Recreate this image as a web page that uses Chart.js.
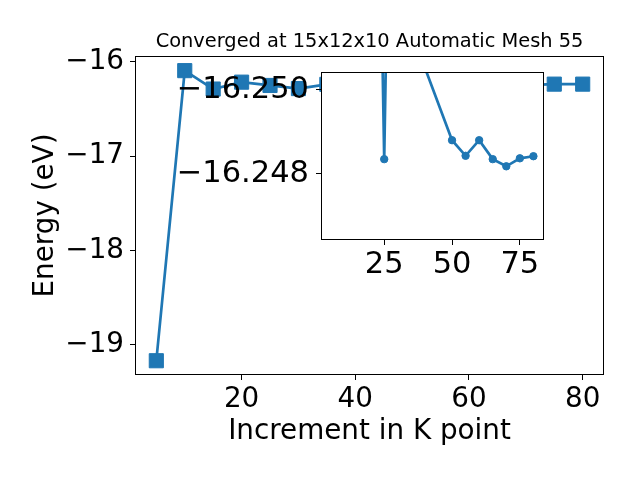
<!DOCTYPE html>
<html>
<head>
<meta charset="utf-8">
<script src="https://cdn.jsdelivr.net/npm/chart.js@4/dist/chart.umd.min.js"></script>
<style>
html,body{margin:0;padding:0;background:#fff;}
#wrap{position:relative;width:640px;height:480px;}
canvas{position:absolute;left:0;top:0;}
</style>
</head>
<body>
<div id="wrap">
<canvas id="main" width="640" height="480"></canvas>
<canvas id="inset" width="640" height="480"></canvas>
</div>
<script>
// ---- data ----
const kPoints = [5, 10, 15, 20, 25, 30, 35, 40, 45, 50, 55, 60, 65, 70, 75, 80];
const energy = [-19.167, -16.095, -16.29, -16.217, -16.252, -16.285, -16.24, -16.25, -16.25, -16.249, -16.248, -16.249, -16.248, -16.248, -16.238, -16.238];

const insetK = [20, 25, 30, 40, 50, 55, 60, 65, 70, 75, 80];
const insetEnergy = [-16.267, -16.24835, -16.267, -16.25052, -16.2488, -16.24843, -16.2488, -16.24835, -16.24818, -16.24837, -16.24842];

const mainXTicks = [20, 40, 60, 80];
const mainYTicks = [-19, -18, -17, -16];
const insetXTicks = [25, 50, 75];
const insetYTicks = [-16.250, -16.248];

const titleText = 'Converged at 15x12x10 Automatic Mesh 55';
const xTitle = 'Increment in K point';
const yTitle = 'Energy (eV)';

// ---- styling ----
const BLUE = '#1f77b4';
const FONT = "'DejaVu Sans', sans-serif";
Chart.defaults.color = '#000';
Chart.defaults.font.family = FONT;

const fmt = (v, d) => Number(v).toFixed(d).replace('-', '\u2212');

const framePlugin = {
  id: 'frame',
  beforeDraw(chart, args, opts) {
    if (!opts.fill) return;
    const a = chart.chartArea, ctx = chart.ctx;
    ctx.save();
    ctx.fillStyle = '#fff';
    ctx.fillRect(a.left, a.top, a.right - a.left, a.bottom - a.top);
    ctx.restore();
  },
  afterDraw(chart, args, opts) {
    const a = chart.chartArea, ctx = chart.ctx;
    ctx.save();
    ctx.strokeStyle = '#000';
    ctx.lineWidth = 1;
    ctx.strokeRect(Math.round(a.left) + 0.5, Math.round(a.top) + 0.5,
                   Math.round(a.right - a.left) - 1, Math.round(a.bottom - a.top) - 1);
    if (opts.title) {
      ctx.fillStyle = '#000';
      ctx.font = '19.4px ' + FONT;
      ctx.textAlign = 'center';
      ctx.textBaseline = 'alphabetic';
      ctx.fillText(opts.title, (a.left + a.right) / 2, a.top - 8.7);
    }
    ctx.restore();
  }
};

function axis(o) {
  return {
    type: 'linear',
    min: o.min, max: o.max, reverse: !!o.reverse,
    afterBuildTicks: s => { s.ticks = o.ticks.map(v => ({ value: v })); },
    afterFit: s => { if (o.width !== undefined) s.width = o.width; if (o.height !== undefined) s.height = o.height; },
    ticks: {
      autoSkip: false, maxRotation: 0, minRotation: 0,
      padding: o.pad, color: '#000',
      font: { size: o.fontSize, family: FONT },
      callback: v => fmt(v, o.decimals)
    },
    grid: { display: true, drawOnChartArea: false, drawTicks: true, tickLength: 5, tickColor: '#000', tickWidth: 1 },
    border: { display: false },
    title: o.title ? { display: true, text: o.title, color: '#000', font: { size: 27.8, family: FONT }, padding: o.titlePad } : { display: false }
  };
}

new Chart(document.getElementById('main'), {
  type: 'line',
  data: {
    datasets: [{
      data: kPoints.map((k, i) => ({ x: k, y: energy[i] })),
      borderColor: BLUE, borderWidth: 2.7, fill: false, tension: 0,
      pointStyle: 'rect', pointRadius: 10, pointBackgroundColor: BLUE,
      pointBorderColor: BLUE, pointBorderWidth: 1, clip: 0
    }]
  },
  options: {
    responsive: false, animation: false, devicePixelRatio: 1,
    layout: { autoPadding: false, padding: { left: 0, right: 36, top: 56, bottom: 0 } },
    plugins: {
      legend: { display: false }, tooltip: { enabled: false }, title: { display: false },
      frame: { fill: false, title: titleText }
    },
    scales: {
      x: axis({ min: 1.25, max: 83.75, ticks: mainXTicks, decimals: 0, fontSize: 27.8, pad: 3, height: 105, title: xTitle, titlePad: { top: 0, bottom: 32 } }),
      y: axis({ min: -19.318, max: -15.940, ticks: mainYTicks, decimals: 0, fontSize: 27.8, pad: 6, width: 135, title: yTitle, titlePad: { top: 29, bottom: 0 } })
    }
  },
  plugins: [framePlugin]
});

new Chart(document.getElementById('inset'), {
  type: 'line',
  data: {
    datasets: [{
      data: insetK.map((k, i) => ({ x: k, y: insetEnergy[i] })),
      borderColor: BLUE, borderWidth: 2.7, fill: false, tension: 0,
      pointStyle: 'circle', pointRadius: 3.7, pointBackgroundColor: BLUE,
      pointBorderColor: BLUE, pointBorderWidth: 1, clip: 0
    }]
  },
  options: {
    responsive: false, animation: false, devicePixelRatio: 1,
    layout: { autoPadding: false, padding: { left: 150, right: 96, top: 72, bottom: 180 } },
    plugins: {
      legend: { display: false }, tooltip: { enabled: false }, title: { display: false },
      frame: { fill: true }
    },
    scales: {
      x: axis({ min: 1.7, max: 83.9, ticks: insetXTicks, decimals: 0, fontSize: 30.5, pad: 2, height: 60 }),
      y: axis({ min: -16.25042, max: -16.24643, reverse: true, ticks: insetYTicks, decimals: 3, fontSize: 30.5, pad: 7, width: 171 })
    }
  },
  plugins: [framePlugin]
});
</script>
</body>
</html>
